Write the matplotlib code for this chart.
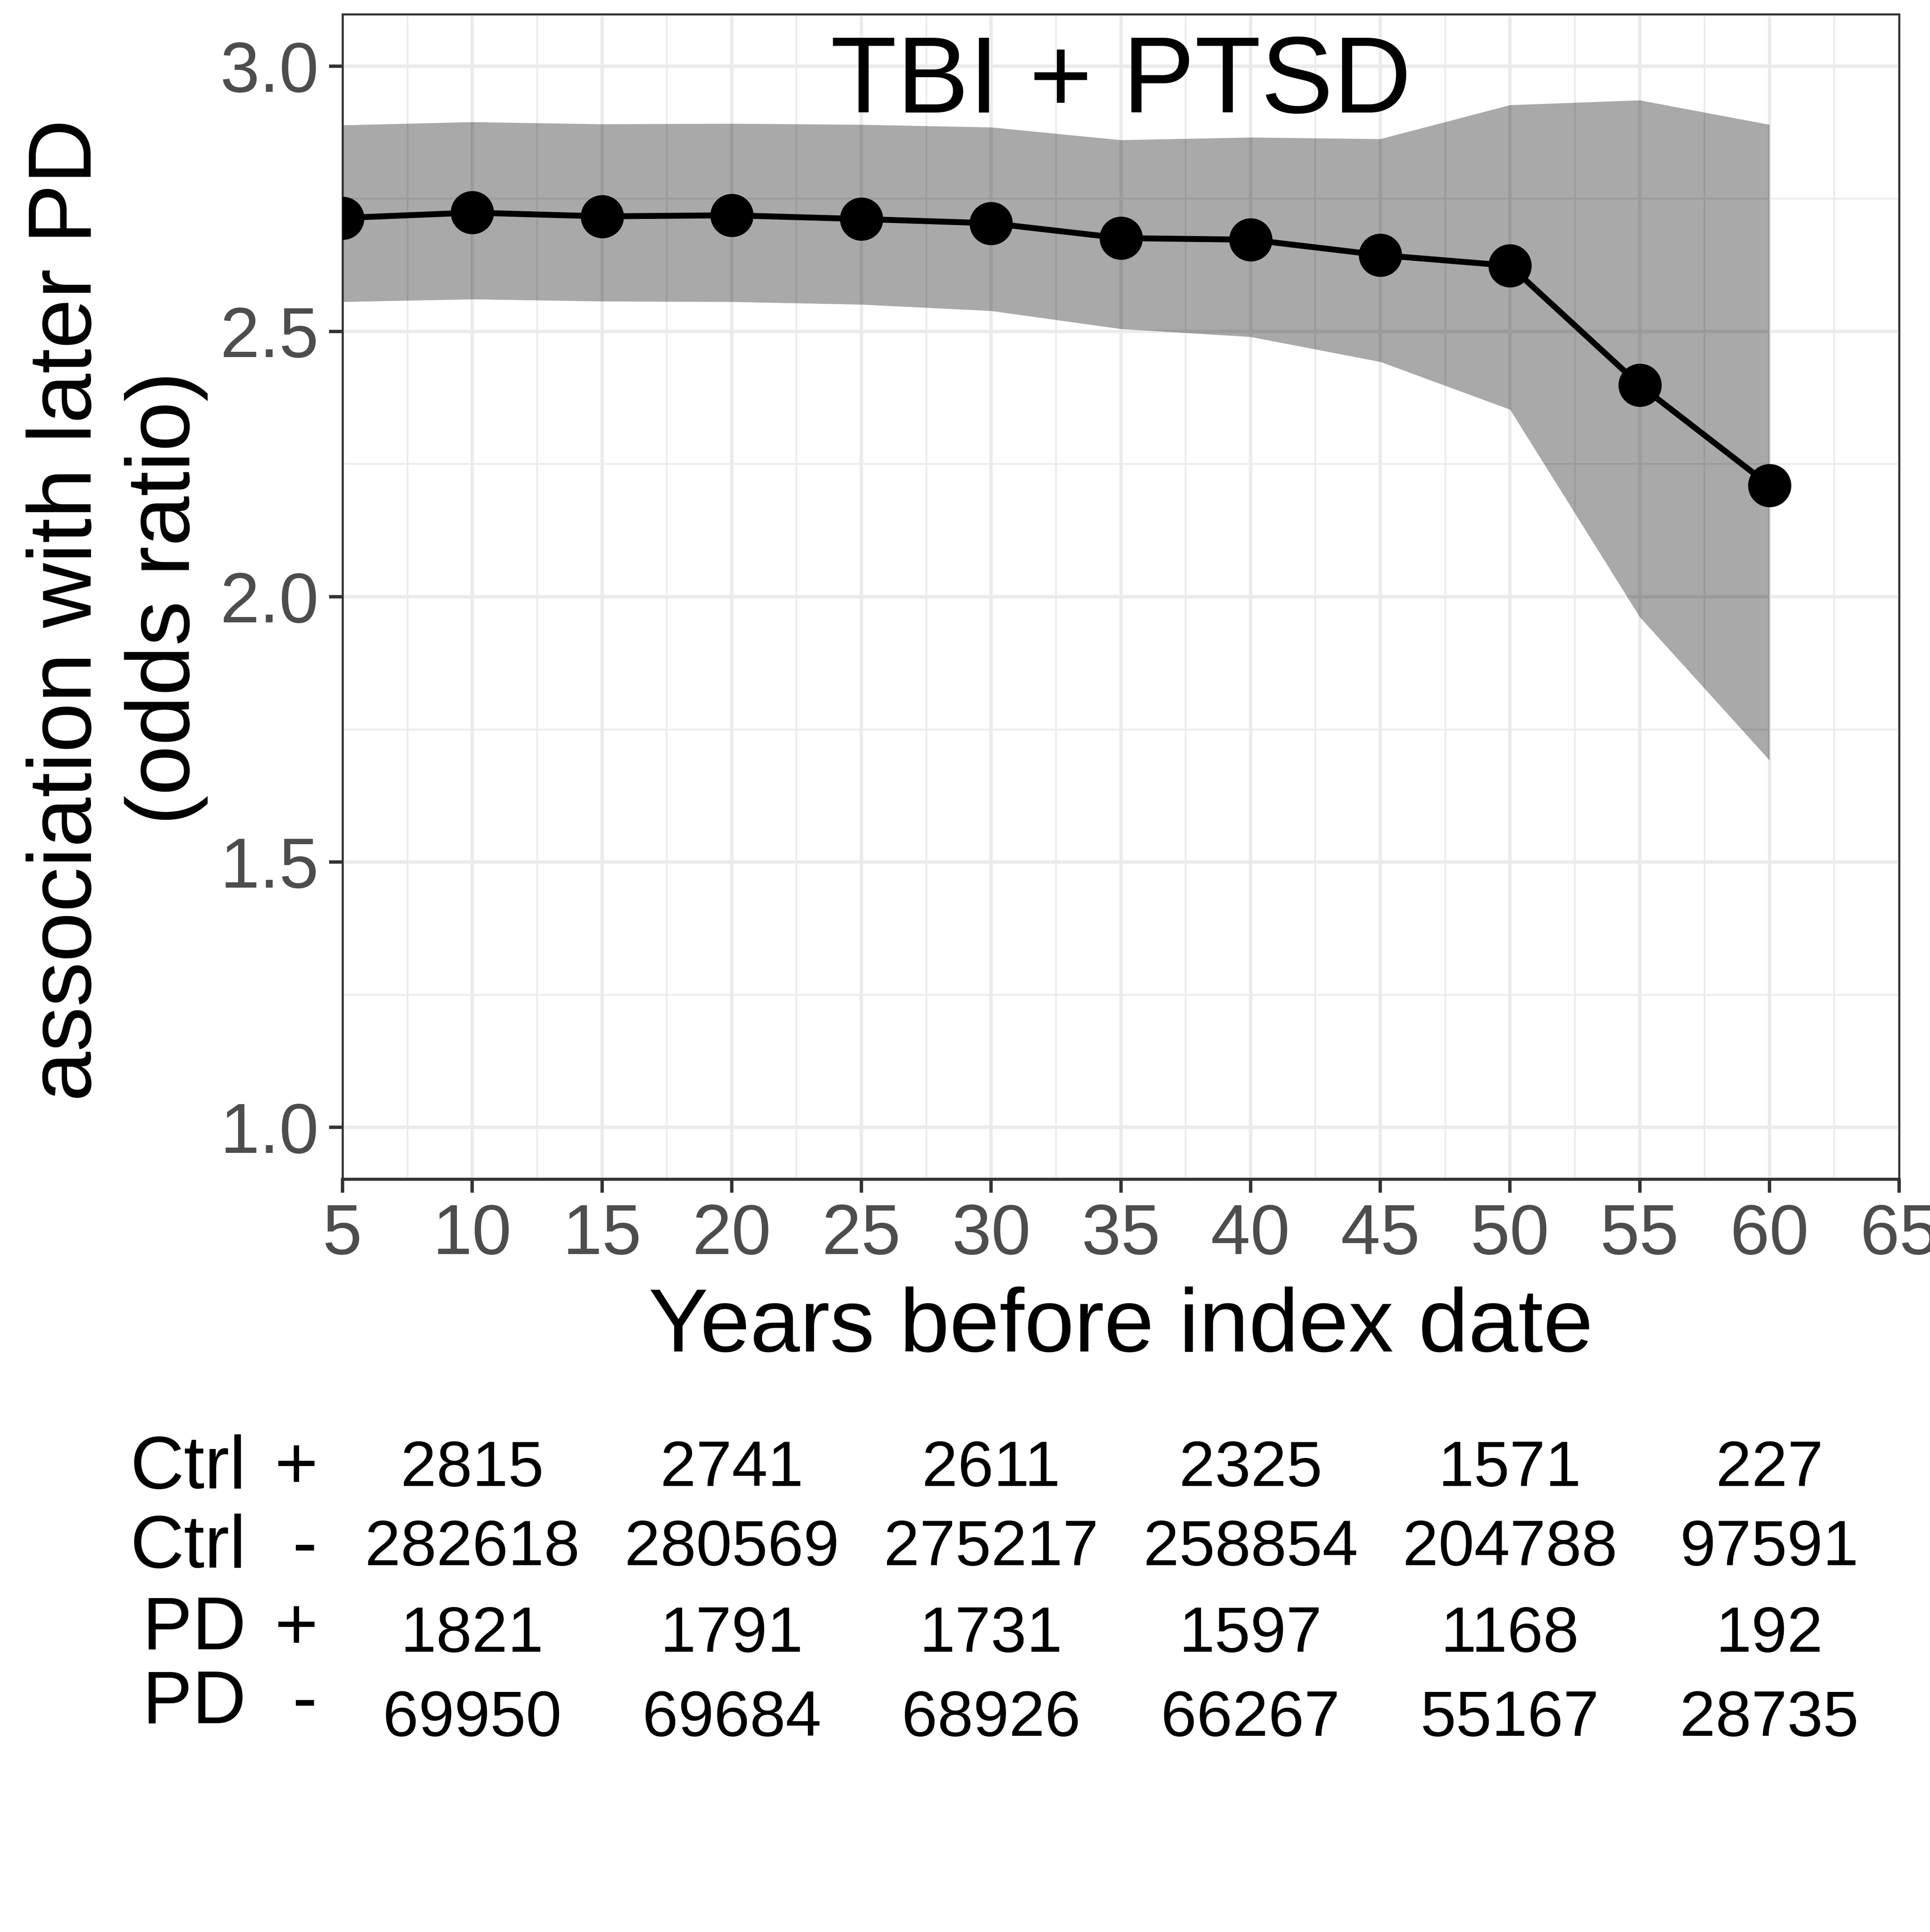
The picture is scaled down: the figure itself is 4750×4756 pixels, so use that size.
import numpy as np
import matplotlib.pyplot as plt
from matplotlib.transforms import blended_transform_factory

plt.rcParams['font.family'] = ['Liberation Sans', 'DejaVu Sans']

# odds ratio of TBI + PTSD vs years before index date
years = [5, 10, 15, 20, 25, 30, 35, 40, 45, 50, 55, 60]
odds_ratio = [2.714, 2.724, 2.717, 2.719, 2.712, 2.704, 2.676, 2.673, 2.644, 2.624, 2.399, 2.210]
ci_low = [2.556, 2.561, 2.557, 2.556, 2.551, 2.539, 2.505, 2.490, 2.443, 2.353, 1.962, 1.692]
ci_high = [2.889, 2.895, 2.891, 2.892, 2.890, 2.885, 2.861, 2.866, 2.863, 2.927, 2.936, 2.890]

# counts table under the plot
table_years = [10, 20, 30, 40, 50, 60]
ctrl_pos = [2815, 2741, 2611, 2325, 1571, 227]
ctrl_neg = [282618, 280569, 275217, 258854, 204788, 97591]
pd_pos = [1821, 1791, 1731, 1597, 1168, 192]
pd_neg = [69950, 69684, 68926, 66267, 55167, 28735]
row_names = ['Ctrl', 'Ctrl', 'PD', 'PD']
row_signs = ['+', '-', '+', '-']

W, H = 4750, 4756
fig = plt.figure(figsize=(W / 300, H / 300), dpi=300)
ax = fig.add_axes([843 / W, 1 - 2903 / H, (4674 - 843) / W, (2903 - 35) / H])

ax.fill_between(years, ci_low, ci_high, color='black', alpha=0.337, linewidth=0, zorder=2)
ax.plot(years, odds_ratio, color='black', lw=3.5, marker='o', markersize=24.5, zorder=3)

ax.set_xlim(5, 65)
ax.set_ylim(0.902, 3.098)
ax.set_xticks(np.arange(5, 66, 5))
ax.set_xticks(np.arange(7.5, 65, 5), minor=True)
ax.set_yticks([1.0, 1.5, 2.0, 2.5, 3.0])
ax.set_yticks([1.25, 1.75, 2.25, 2.75], minor=True)
ax.set_yticklabels(['1.0', '1.5', '2.0', '2.5', '3.0'])

ax.grid(which='major', color='#EBEBEB', lw=2.0, zorder=0)
ax.grid(which='minor', color='#EBEBEB', lw=1.0, zorder=0)
ax.set_axisbelow(True)

ax.tick_params(which='major', length=8, width=2, color='#333333',
               labelsize=42, labelcolor='#4D4D4D')
ax.tick_params(axis='x', pad=6)
ax.tick_params(axis='y', pad=6)
ax.tick_params(which='minor', length=0)
for s in ax.spines.values():
    s.set_color('#333333')
    s.set_linewidth(1.2)
ax.spines['bottom'].set_linewidth(1.8)

ax.text(0.5, (2903 - 277) / 2868, 'TBI + PTSD', transform=ax.transAxes,
        ha='center', va='baseline', fontsize=64)

fig.text((843 + 4674) / 2 / W, 1 - 3327 / H, 'Years before index date',
         ha='center', va='baseline', fontsize=53)
fig.text(224 / W, 1 - 1502 / H, 'association with later PD', rotation=90,
         rotation_mode='anchor', ha='center', va='baseline', fontsize=53)
fig.text(466 / W, 1 - 1473 / H, '(odds ratio)', rotation=90,
         rotation_mode='anchor', ha='center', va='baseline', fontsize=53)

# table rows
rows = [ctrl_pos, ctrl_neg, pd_pos, pd_neg]
label_base = [3664, 3859, 4060, 4241]
num_base = [3658, 3853, 4066, 4273]
sign_x = {'+': 730, '-': 750}
trans = blended_transform_factory(ax.transData, fig.transFigure)
for vals, name, sign, lb, nb in zip(rows, row_names, row_signs, label_base, num_base):
    fig.text(606 / W, 1 - lb / H, name, ha='right', va='baseline', fontsize=44)
    fig.text(sign_x[sign] / W, 1 - lb / H, sign, ha='center', va='baseline', fontsize=44)
    for x, v in zip(table_years, vals):
        ax.text(x, 1 - nb / H, str(v), transform=trans, ha='center',
                va='baseline', fontsize=38, clip_on=False)

fig.savefig('out.png', dpi=300)
